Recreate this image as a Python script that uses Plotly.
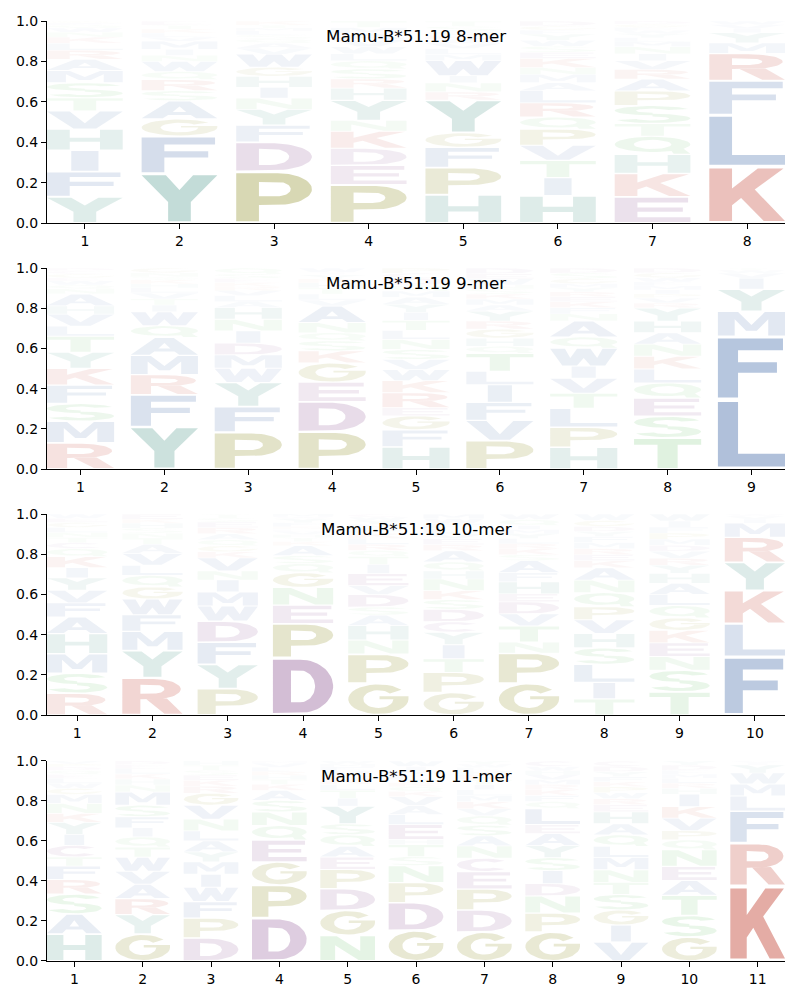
import numpy as np
import plotly.graph_objects as go

# ---------------- data (letters listed bottom -> top, heights = probability) ----------------
mer8_letters = ["YFIHVTSMARLKNWQEG", "YFGASRQWNIMVLKTE", "PDFYNIHGWVAQSLMTK",
                "PEDKNYHRSQLWVAMT", "HPFGYRNIWMLVAKQST", "HITVPQRLAMNKESWYFGD",
                "EKHQTSPARVINMLYWFGD", "KLFRMYIVW"]
mer8_heights = [
    [.13, .125, .105, .105, .09, .065, .075, .06, .055, .045, .035, .03, .025, .02, .015, .01, .01],
    [.245, .185, .085, .09, .05, .055, .04, .05, .03, .03, .04, .02, .02, .02, .02, .02],
    [.255, .145, .085, .078, .055, .053, .055, .045, .065, .03, .025, .02, .02, .02, .015, .014, .02],
    [.19, .095, .085, .085, .053, .1, .06, .045, .05, .04, .035, .035, .035, .03, .03, .032],
    [.14, .135, .1, .072, .162, .04, .045, .035, .075, .03, .03, .025, .02, .02, .02, .025, .026],
    [.135, .09, .085, .075, .08, .06, .07, .06, .04, .04, .035, .045, .03, .03, .03, .03, .02, .02, .025],
    [.13, .115, .095, .09, .062, .09, .072, .058, .048, .043, .035, .035, .025, .02, .02, .015, .015, .016, .016],
    [.28, .255, .17, .135, .052, .05, .02, .02, .018],
]

mer9_letters = ["RMSFKYTLVHANQWEGCD", "YFRMAQWITVLHKSNG", "PFYWMDINHALVRKESQ",
                "PDEGKSQNAVLTHRYIW", "HFGERKWVSNLTIYAMQDCP", "PVFILTQHGRYAMKSNWED",
                "HPLTVIWQANFKERYMGSD", "TSEQLKNAHYRVPIMFWGD", "LFMYIVWT"]
mer9_heights = [
    [.13, .108, .088, .092, .083, .08, .08, .05, .06, .04, .06, .025, .02, .02, .015, .02, .015, .014],
    [.21, .16, .1, .095, .09, .058, .07, .033, .03, .03, .025, .02, .02, .015, .02, .024],
    [.183, .128, .12, .07, .067, .058, .061, .058, .058, .03, .03, .025, .02, .02, .02, .023, .029],
    [.185, .15, .097, .096, .06, .05, .04, .05, .083, .03, .03, .03, .025, .02, .02, .012, .022],
    [.11, .085, .07, .04, .075, .06, .055, .05, .05, .05, .045, .05, .04, .04, .035, .03, .03, .035, .025, .025],
    [.142, .1, .09, .088, .066, .09, .035, .04, .045, .04, .05, .03, .03, .025, .025, .02, .03, .025, .029],
    [.108, .1, .094, .075, .075, .06, .09, .055, .08, .035, .03, .03, .025, .025, .02, .02, .025, .028, .025],
    [.155, .108, .09, .075, .07, .063, .06, .057, .058, .065, .025, .025, .02, .02, .02, .02, .02, .025, .024],
    [.345, .315, .125, .11, .055, .025, .015, .01],
]

mer10_letters = ["RSMHAFVYIKQCTNLGEW", "RYMFWGQLVATNSHKE", "PYFDWMINVKGQAREST",
                 "DPENGQSAKTHVLRFYWM", "GPNHASDVEITQRLKFMYWC", "GPTIYCDSKNHQAREVLFWM",
                 "GPNTVDEHFASKRLYMIQW", "TILSHVPQNAKERMFYDGW", "TSNEKGQLAHYRVDMPFIW",
                 "FLKYRMIVW"]
mer10_heights = [
    [.108, .1, .097, .1, .083, .07, .063, .062, .05, .055, .04, .03, .025, .025, .025, .025, .02, .022],
    [.185, .136, .095, .083, .078, .061, .057, .05, .06, .045, .03, .025, .025, .025, .02, .025],
    [.132, .12, .11, .105, .075, .07, .06, .045, .065, .03, .03, .03, .03, .03, .028, .02, .02],
    [.285, .17, .092, .088, .073, .045, .04, .05, .02, .02, .015, .015, .012, .012, .02, .02, .01, .013],
    [.158, .145, .07, .072, .052, .04, .062, .045, .06, .045, .04, .03, .03, .03, .025, .025, .02, .02, .016, .015],
    [.112, .1, .068, .07, .062, .052, .062, .048, .045, .058, .04, .045, .055, .03, .03, .025, .025, .025, .025, .023],
    [.158, .15, .055, .08, .06, .06, .04, .06, .045, .06, .03, .03, .025, .025, .025, .02, .02, .03, .027],
    [.08, .082, .09, .082, .072, .068, .065, .07, .062, .062, .035, .03, .03, .03, .03, .025, .025, .03, .032],
    [.115, .108, .068, .068, .062, .062, .062, .055, .055, .05, .04, .035, .035, .03, .03, .03, .03, .03, .035],
    [.29, .165, .165, .14, .125, .07, .02, .015, .01],
]

mer11_letters = ["HASRFTCIYKNMGWLEQDPV", "GYRAVWTQIFSMNHKLED", "DPFWIMYALNVGRKESTH",
                 "DPGEQNSAKTHRLVM", "NGDPEAQSYITLKRVFMW", "GDPNSTHELAVKQRYFMIW",
                 "GDPECNASQVKMLITRHFWY", "GPNDISYAELQFKRMVHWC", "VIGSTNMLQAHERWPKFYDC",
                 "GSTAENQPVKIHRLMFDY", "KRFLMWYIV"]
mer11_heights = [
    [.135, .1, .1, .072, .068, .045, .058, .055, .06, .045, .05, .045, .03, .025, .025, .02, .02, .017, .015, .015],
    [.135, .097, .08, .072, .065, .07, .05, .052, .045, .055, .058, .066, .035, .03, .025, .027, .02, .018],
    [.115, .1, .082, .072, .065, .062, .05, .055, .05, .058, .07, .06, .035, .03, .025, .025, .025, .021],
    [.215, .165, .115, .11, .072, .068, .058, .05, .03, .025, .02, .02, .02, .02, .012],
    [.128, .125, .108, .097, .062, .053, .058, .055, .088, .04, .04, .03, .025, .02, .02, .022, .015, .014],
    [.152, .14, .1, .085, .045, .06, .025, .075, .05, .045, .045, .025, .025, .02, .02, .02, .02, .02, .028],
    [.145, .11, .105, .087, .067, .062, .05, .053, .047, .035, .035, .03, .03, .025, .025, .025, .02, .017, .016, .016],
    [.145, .095, .085, .062, .065, .065, .06, .06, .045, .08, .035, .03, .03, .025, .025, .025, .02, .02, .028],
    [.095, .085, .075, .078, .06, .063, .062, .055, .058, .055, .06, .035, .03, .03, .03, .025, .025, .025, .027, .027],
    [.12, .108, .1, .075, .07, .083, .05, .045, .063, .058, .062, .03, .025, .025, .02, .02, .025, .021],
    [.375, .215, .16, .075, .06, .055, .04, .01, .01],
]

titles = ["Mamu-B*51:19 8-mer", "Mamu-B*51:19 9-mer", "Mamu-B*51:19 10-mer", "Mamu-B*51:19 11-mer"]

# ---------------- styling ----------------
RED = (219, 144, 135)
BLUE = (140, 164, 202)
TEAL = (133, 184, 175)
OLIVE = (179, 179, 108)
PURPLE = (178, 140, 182)
GREEN = (155, 213, 155)
letter_color = {}
for c in "KR": letter_color[c] = RED
for c in "AFILMVW": letter_color[c] = BLUE
for c in "HY": letter_color[c] = TEAL
for c in "GP": letter_color[c] = OLIVE
for c in "CDE": letter_color[c] = PURPLE
for c in "NQST": letter_color[c] = GREEN

LETTER_WIDTH = 0.8
VPAD = 0.035


# ---------------- glyph outlines in a unit box ----------------
def ell(cx, cy, rx, ry, a0, a1, n=30):
    t = np.radians(np.linspace(a0, a1, n))
    return list(zip(cx + rx * np.cos(t), cy + ry * np.sin(t)))


def ring(cx, cy, rxo, ryo, rxi, ryi, a0, a1):
    return ell(cx, cy, rxo, ryo, a0, a1) + ell(cx, cy, rxi, ryi, a1, a0)


def rect(x0, y0, x1, y1):
    return [(x0, y0), (x1, y0), (x1, y1), (x0, y1)]


GLYPHS = {
    "A": ([[(0, 0), (0.28, 0), (0.35, 0.2), (0.65, 0.2), (0.72, 0), (1, 0), (0.64, 1), (0.36, 1)]],
          [[(0.41, 0.37), (0.59, 0.37), (0.5, 0.7)]]),
    "C": ([ring(0.5, 0.5, 0.5, 0.5, 0.25, 0.3, 42, 318)], []),
    "D": ([[(0, 0), (0.45, 0)] + ell(0.45, 0.5, 0.55, 0.5, -90, 90) + [(0, 1)]],
          [[(0.3, 0.2), (0.45, 0.2)] + ell(0.45, 0.5, 0.25, 0.3, -90, 90) + [(0.3, 0.8)]]),
    "E": ([[(0, 0), (1, 0), (1, 0.2), (0.3, 0.2), (0.3, 0.42), (0.9, 0.42), (0.9, 0.6),
            (0.3, 0.6), (0.3, 0.8), (0.97, 0.8), (0.97, 1), (0, 1)]], []),
    "F": ([[(0, 0), (0.3, 0), (0.3, 0.42), (0.88, 0.42), (0.88, 0.6), (0.3, 0.6),
            (0.3, 0.8), (0.97, 0.8), (0.97, 1), (0, 1)]], []),
    "G": ([ring(0.5, 0.5, 0.5, 0.5, 0.25, 0.3, 40, 360), rect(0.52, 0.5, 1.0, 0.6)], []),
    "H": ([[(0, 0), (0.3, 0), (0.3, 0.4), (0.7, 0.4), (0.7, 0), (1, 0), (1, 1), (0.7, 1),
            (0.7, 0.6), (0.3, 0.6), (0.3, 1), (0, 1)]], []),
    "I": ([rect(0.32, 0, 0.68, 1)], []),
    "K": ([[(0, 0), (0.3, 0), (0.3, 0.3), (0.42, 0.44), (0.72, 0), (1, 0), (0.6, 0.6),
            (0.98, 1), (0.64, 1), (0.3, 0.62), (0.3, 1), (0, 1)]], []),
    "L": ([[(0, 0), (1, 0), (1, 0.2), (0.3, 0.2), (0.3, 1), (0, 1)]], []),
    "M": ([[(0, 0), (0.25, 0), (0.25, 0.7), (0.42, 0.2), (0.58, 0.2), (0.75, 0.7), (0.75, 0),
            (1, 0), (1, 1), (0.7, 1), (0.5, 0.45), (0.3, 1), (0, 1)]], []),
    "N": ([[(0, 0), (0.27, 0), (0.27, 0.62), (0.7, 0), (1, 0), (1, 1), (0.73, 1), (0.73, 0.38),
            (0.3, 1), (0, 1)]], []),
    "P": ([[(0, 0), (0.3, 0), (0.3, 0.34), (0.55, 0.34)] + ell(0.55, 0.67, 0.45, 0.33, -90, 90) + [(0, 1)]],
          [[(0.3, 0.52), (0.55, 0.52)] + ell(0.55, 0.67, 0.17, 0.15, -90, 90) + [(0.3, 0.82)]]),
    "Q": ([ell(0.5, 0.55, 0.5, 0.45, -35, 300) + [(0.78, 0.0), (1.0, 0.0)]],
          [ell(0.5, 0.55, 0.25, 0.27, 0, 360)]),
    "R": ([[(0, 0), (0.3, 0), (0.3, 0.42), (0.52, 0.42)] + ell(0.52, 0.71, 0.45, 0.29, -90, 90) + [(0, 1)],
           [(0.4, 0.42), (0.7, 0), (1.0, 0), (0.74, 0.44)]],
          [[(0.3, 0.58), (0.52, 0.58)] + ell(0.52, 0.71, 0.18, 0.13, -90, 90) + [(0.3, 0.84)]]),
    "S": ([ring(0.5, 0.73, 0.5, 0.27, 0.22, 0.12, 20, 270),
           ring(0.5, 0.27, 0.5, 0.27, 0.22, 0.12, 90, -160)], []),
    "T": ([[(0.35, 0), (0.65, 0), (0.65, 0.8), (1, 0.8), (1, 1), (0, 1), (0, 0.8), (0.35, 0.8)]], []),
    "V": ([[(0.35, 0), (0.65, 0), (1, 1), (0.7, 1), (0.5, 0.3), (0.3, 1), (0, 1)]], []),
    "W": ([[(0.18, 0), (0.4, 0), (0.5, 0.45), (0.6, 0), (0.82, 0), (1, 1), (0.78, 1), (0.7, 0.45),
            (0.6, 1), (0.4, 1), (0.3, 0.45), (0.22, 1), (0, 1)]], []),
    "Y": ([[(0.35, 0), (0.65, 0), (0.65, 0.42), (1, 1), (0.68, 1), (0.5, 0.68), (0.32, 1), (0, 1),
            (0.35, 0.42)]], []),
}


def oriented(poly, ccw):
    p = np.array(poly, dtype=float)
    area = 0.5 * np.sum(p[:, 0] * np.roll(p[:, 1], -1) - np.roll(p[:, 0], -1) * p[:, 1])
    if (area > 0) != ccw:
        p = p[::-1]
    return p


# ---------------- build figure ----------------
fig = go.Figure()
kmers = [(mer8_letters, mer8_heights), (mer9_letters, mer9_heights),
         (mer10_letters, mer10_heights), (mer11_letters, mer11_heights)]
domains = [[0.7851, 1.0], [0.5234, 0.7372], [0.2617, 0.4755], [0.0, 0.2128]]

for k, (letters_cols, heights_cols) in enumerate(kmers):
    suffix = "" if k == 0 else str(k + 1)
    groups = {}
    for pos, (letters, heights) in enumerate(zip(letters_cols, heights_cols), start=1):
        base = 0.0
        for ch, h in zip(letters, heights):
            rgb = letter_color[ch]
            alpha = round(min(1.0, 2.0 * h), 2)
            key = "rgba(%d,%d,%d,%.2f)" % (rgb[0], rgb[1], rgb[2], alpha)
            xs, ys = groups.setdefault(key, ([], []))
            y0 = base + VPAD * h
            hh = h * (1 - 2 * VPAD)
            x0 = pos - LETTER_WIDTH / 2
            outers, holes = GLYPHS[ch]
            for poly, ccw in [(p, True) for p in outers] + [(p, False) for p in holes]:
                p = oriented(poly, ccw)
                xs.extend((x0 + LETTER_WIDTH * p[:, 0]).tolist() + [float(x0 + LETTER_WIDTH * p[0, 0]), None])
                ys.extend((y0 + hh * p[:, 1]).tolist() + [float(y0 + hh * p[0, 1]), None])
            base += h
    for key, (xs, ys) in groups.items():
        fig.add_trace(go.Scatter(x=xs, y=ys, mode="lines", fill="toself", fillcolor=key,
                                 line=dict(width=0, color="rgba(0,0,0,0)"), hoverinfo="skip",
                                 showlegend=False, xaxis="x" + suffix, yaxis="y" + suffix))

    n = len(letters_cols)
    axis_common = dict(showline=True, linecolor="black", linewidth=1.1, ticks="outside",
                       ticklen=5, tickwidth=1.1, tickcolor="black", showgrid=False,
                       zeroline=False, tickfont=dict(family="DejaVu Sans", size=14, color="black"),
                       fixedrange=True)
    fig.layout["xaxis" + suffix] = dict(domain=[0, 1], anchor="y" + suffix, range=[0.6, n + 0.4],
                                        tickmode="array", tickvals=list(range(1, n + 1)),
                                        ticktext=[str(i) for i in range(1, n + 1)], **axis_common)
    fig.layout["yaxis" + suffix] = dict(domain=domains[k], anchor="x" + suffix, range=[0, 1],
                                        tickmode="array", tickvals=[0, 0.2, 0.4, 0.6, 0.8, 1.0],
                                        ticktext=["0.0", "0.2", "0.4", "0.6", "0.8", "1.0"],
                                        **axis_common)
    fig.add_annotation(text=titles[k], xref="x" + suffix + " domain", yref="y" + suffix + " domain",
                       x=0.5, y=0.926, xanchor="center", yanchor="middle", showarrow=False,
                       font=dict(family="DejaVu Sans", size=16.7, color="black"))

fig.update_layout(width=800, height=1000, margin=dict(l=47, r=15, t=21, b=39),
                  paper_bgcolor="white", plot_bgcolor="white", showlegend=False)

fig.write_html("out.html")
